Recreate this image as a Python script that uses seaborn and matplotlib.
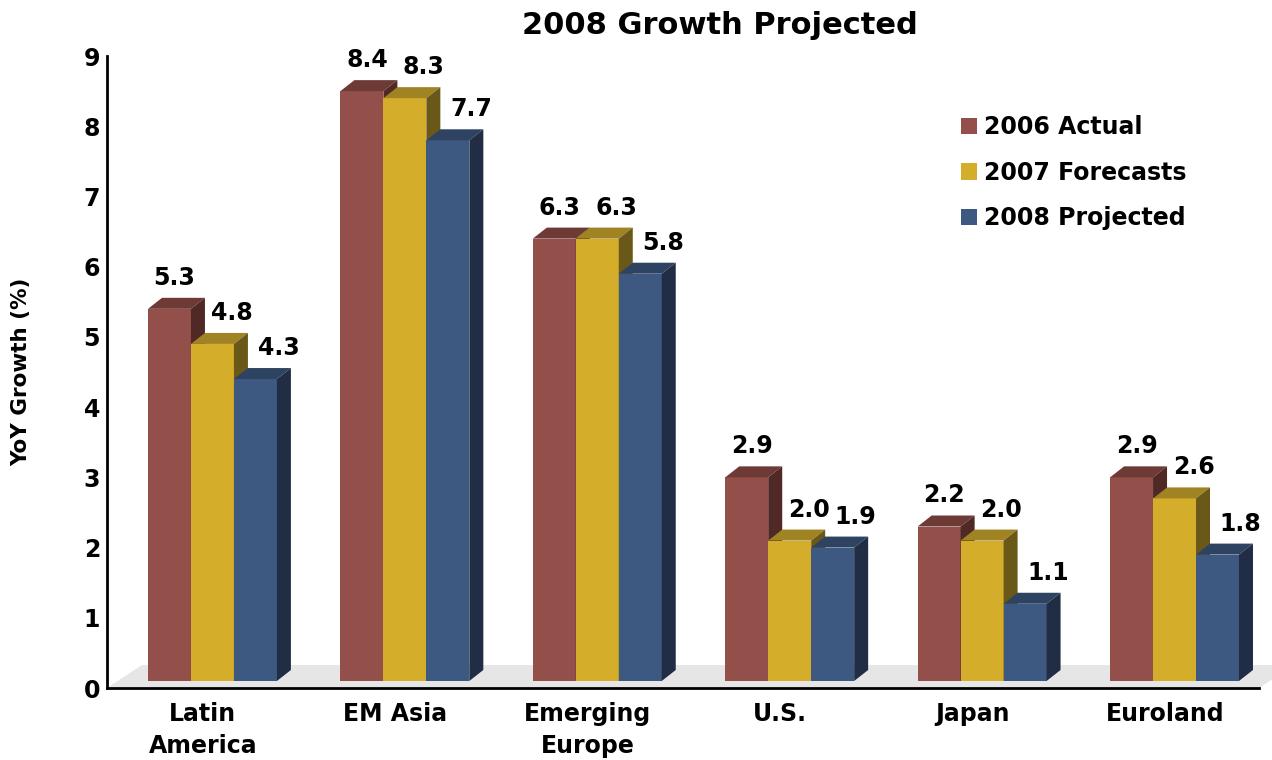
import numpy as np
import pandas as pd
import matplotlib
matplotlib.use("Agg")
import matplotlib.pyplot as plt
from matplotlib.patches import Polygon, Patch
import seaborn as sns

# ---- data -------------------------------------------------------------
regions = ["Latin\nAmerica", "EM Asia", "Emerging\nEurope", "U.S.", "Japan", "Euroland"]
series = ["2006 Actual", "2007 Forecasts", "2008 Projected"]
actual_2006 = [5.3, 8.4, 6.3, 2.9, 2.2, 2.9]
forecast_2007 = [4.8, 8.3, 6.3, 2.0, 2.0, 2.6]
projected_2008 = [4.3, 7.7, 5.8, 1.9, 1.1, 1.8]
y_ticks = [0, 1, 2, 3, 4, 5, 6, 7, 8, 9]

# ---- styling ------------------------------------------------------------
front_colors = ["#934f49", "#d4ae2b", "#3e5981"]
top_colors = ["#6e3a36", "#a08322", "#2e4262"]
side_colors = ["#502825", "#6a5818", "#212d45"]
floor_color = "#e6e6e6"

sns.set_style("white")
plt.rcParams["font.family"] = ["DejaVu Sans"]
plt.rcParams["font.weight"] = "bold"
for key in ["text.color", "axes.labelcolor", "xtick.color", "ytick.color", "axes.edgecolor"]:
    plt.rcParams[key] = "black"

df = pd.DataFrame({
    "Region": regions * 3,
    "Series": np.repeat(series, len(regions)),
    "Growth": actual_2006 + forecast_2007 + projected_2008,
})

W, H = 1272, 760
fig = plt.figure(figsize=(W / 100, H / 100), dpi=100)
ax = fig.add_axes([107 / W, 72 / H, 1152 / W, 632 / H])

sns.barplot(data=df, x="Region", y="Growth", hue="Series", order=regions,
            hue_order=series, palette=front_colors, saturation=1, width=0.67,
            linewidth=0, edgecolor="none", errorbar=None, legend=False, ax=ax)

ax.set_xlim(-0.548, 5.439)
ax.set_ylim(0, 9)

# 3-D extrusion (in data units) and the lift of the bars above the floor edge
px_x = (ax.get_xlim()[1] - ax.get_xlim()[0]) / 1152
px_y = (ax.get_ylim()[1] - ax.get_ylim()[0]) / 632
depth_dx, depth_dy = 14 * px_x, 11 * px_y
lift = 7 * px_y

# floor plane
x0, x1 = ax.get_xlim()
fdx, fdy = 35 * px_x, 23 * px_y
ax.add_patch(Polygon([(x0, 0), (x1, 0), (x1 + fdx, fdy), (x0 + fdx, fdy)],
                     closed=True, facecolor=floor_color, edgecolor="none",
                     zorder=0.5, clip_on=False))

label_dx_pts = [3.6, 13.7, 16.6]
for k, container in enumerate(ax.containers):
    for bar, value in zip(container.patches, container.datavalues):
        bar.set_y(bar.get_y() + lift)
        bar.set_zorder(2 + k)
        bx, by, bw, bh = bar.get_x(), bar.get_y(), bar.get_width(), bar.get_height()
        top = by + bh
        top_face = Polygon([(bx, top), (bx + bw, top),
                            (bx + bw + depth_dx, top + depth_dy),
                            (bx + depth_dx, top + depth_dy)],
                           closed=True, facecolor=top_colors[k], edgecolor="none",
                           zorder=2 + k)
        side_face = Polygon([(bx + bw, by), (bx + bw + depth_dx, by + depth_dy),
                             (bx + bw + depth_dx, top + depth_dy), (bx + bw, top)],
                            closed=True, facecolor=side_colors[k], edgecolor="none",
                            zorder=2 + k)
        ax.add_patch(top_face)
        ax.add_patch(side_face)
        ax.annotate(f"{value:.1f}", xy=(bx + bw / 2, top),
                    xytext=(label_dx_pts[k], 17.3), textcoords="offset points",
                    ha="center", va="baseline", fontsize=17, fontweight="bold",
                    color="black", zorder=10, annotation_clip=False)

# axes, ticks and labels
for side in ["top", "right"]:
    ax.spines[side].set_visible(False)
for side in ["left", "bottom"]:
    ax.spines[side].set_linewidth(2)
    ax.spines[side].set_color("black")
    ax.spines[side].set_zorder(6)

ax.set_yticks(y_ticks)
ax.set_yticklabels([str(t) for t in y_ticks], fontsize=17, fontweight="bold")
ax.tick_params(axis="y", direction="in", length=7.2, width=2, pad=5, colors="black")
ax.set_xticks(np.arange(len(regions)) - 0.05)
ax.set_xticklabels(regions, fontsize=17, fontweight="bold", linespacing=1.45)
ax.tick_params(axis="x", length=0, pad=10, colors="black")
ax.set_xlabel("")
ax.set_ylabel("YoY Growth (%)", fontsize=15.5, fontweight="bold", color="black")
ax.yaxis.set_label_coords((31 - 107) / 1152, 0.5)

fig.text(720 / W, 1 - 25 / H, "2008 Growth Projected", ha="center", va="center",
         fontsize=22, fontweight="bold", color="black")

handles = [Patch(facecolor=c, edgecolor="none") for c in front_colors]
fig.legend(handles, series, loc="upper left", bbox_to_anchor=(961 / W, 1 - 115 / H),
           frameon=False, handlelength=0.68, handleheight=0.68,
           handletextpad=0.3, labelspacing=0.92, borderpad=0, borderaxespad=0,
           prop={"weight": "bold", "size": 17}, labelcolor="black")

fig.savefig("out.png", dpi=100)
